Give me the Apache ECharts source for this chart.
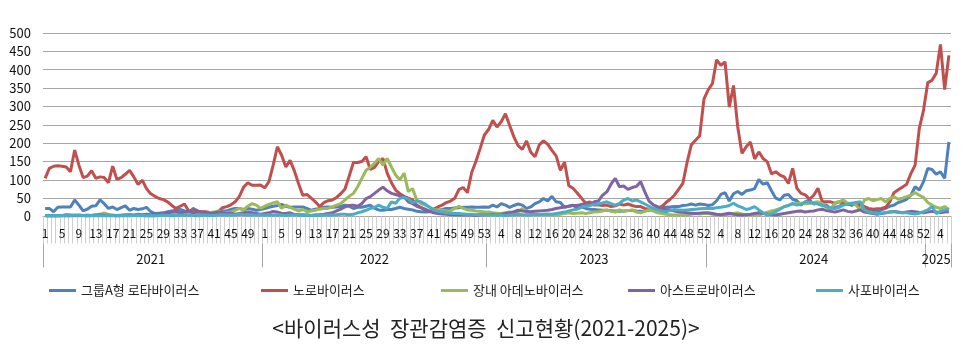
<!DOCTYPE html>
<html><head><meta charset="utf-8">
<script src="https://cdn.jsdelivr.net/npm/echarts@6/dist/echarts.min.js"></script>
<style>html,body{margin:0;padding:0;background:#fff}#c{width:972px;height:348px}</style>
</head><body><div id="c"></div>
<script>
// ---- tick / category definition ----
const years = ['2021', '2022', '2023', '2024', '2025'];
const weeksPerYear = [52, 53, 52, 52, 6];
const yTicks = [0, 50, 100, 150, 200, 250, 300, 350, 400, 450, 500];

// ---- series names ----
const seriesNames = ['그룹A형 로타바이러스', '노로바이러스', '장내 아데노바이러스', '아스트로바이러스', '사포바이러스'];

// ---- weekly values (2021 w1 ... 2025 w6) ----
const rotaA = [
  22,22,13,25,26,26,26,45,31,15, 20,28,29,45,35,22,26,19,24,29, 17,22,19,21,25,13,8,9,10,13, 15,17,19,15,10,22,16,10,6,6, 9,12,15,15,19,22,22,19,22,20, 17,19,
  22,25,28,30,33,28,25,26,26,26, 22,17,20,22,25,26,25,26,28,31, 28,22,25,25,28,31,22,18,17,19, 19,22,25,22,20,18,14,13,12,13, 15,17,19,22,22,23,24,25,25,26, 25,25,26,
  25,31,26,35,31,25,30,34,31,22, 26,35,40,49,42,55,40,38,25,28, 31,22,26,22,20,19,18,17,17,16, 15,14,15,16,17,15,14,15,17,20, 22,27,25,26,27,27,30,31,34,31, 34,33,
  30,32,43,60,65,42,62,68,60,70, 72,76,101,88,92,70,50,45,58,60, 47,43,31,40,45,34,38,33,31,22, 25,27,36,33,31,34,36,22,18,14, 13,18,22,28,31,38,42,47,58,81, 72,95,
  131,128,115,122,104,203
];
const noro = [
  104,131,137,138,137,135,122,181,140,106, 110,125,104,108,106,92,137,101,106,115, 126,108,87,99,76,62,55,49,46,40, 30,22,28,34,15,17,14,13,13,11, 10,13,24,27,32,40,55,80,92,85, 85,86,
  78,95,140,190,167,135,153,125,90,58, 60,50,40,27,38,43,45,52,62,75, 110,147,147,150,163,128,134,150,158,118, 92,72,62,55,50,45,31,24,18,14, 20,26,31,38,42,50,74,79,65,120, 150,185,222,
  237,262,244,258,280,248,217,193,183,206, 175,163,195,206,197,180,165,126,148,84, 77,64,50,36,40,31,32,30,31,27, 29,34,31,34,30,27,27,22,20,19, 22,27,38,47,58,74,90,147,195,208, 220,320,
  345,362,427,412,421,298,357,244,172,190, 203,157,176,158,149,116,122,113,108,90, 131,77,63,59,47,58,77,41,40,40, 36,40,38,35,31,36,29,27,22,20, 21,22,25,40,65,73,80,88,117,140, 240,290,
  365,371,390,469,346,439
];
const adeno = [
  2,2,3,2,2,3,2,3,2,3, 4,3,5,6,10,5,4,3,4,5, 4,3,2,3,2,3,2,5,4,6, 8,10,6,5,8,12,6,5,8,10, 12,15,10,10,12,17,22,18,28,35, 31,22,
  28,33,37,40,22,31,25,20,15,19, 13,15,17,20,22,22,26,31,35,45, 55,63,81,104,126,134,145,158,140,158, 135,113,100,118,68,76,45,35,31,26, 19,18,17,15,16,22,28,22,18,17, 15,14,12,
  12,10,9,8,10,12,10,13,22,10, 8,6,5,6,5,4,5,6,8,10, 8,9,10,8,10,12,13,15,18,14, 12,18,14,16,18,12,10,14,19,15, 10,8,6,5,4,5,6,5,6,8, 7,8,
  8,6,5,4,5,6,8,10,7,5, 4,5,4,8,12,15,18,22,26,31, 33,36,36,35,36,38,40,35,25,18, 38,40,45,36,36,31,18,45,49,43, 46,49,40,49,54,47,50,54,58,65, 58,52,
  38,31,25,22,27,19
];
const astro = [
  2,2,3,2,3,5,4,3,4,3, 2,3,4,5,3,4,3,2,3,4, 5,4,6,5,6,5,7,6,8,10, 12,14,10,12,15,10,13,12,11,8, 10,12,10,8,9,6,8,10,12,10, 8,6,
  8,10,14,12,9,8,10,6,5,5, 4,3,4,5,6,8,10,15,20,26, 30,31,28,35,49,54,63,72,80,70, 63,60,56,54,40,35,28,24,20,14, 10,8,7,6,5,5,4,4,5,4, 3,4,5,
  5,6,5,6,8,10,13,17,15,14, 13,14,15,16,17,19,22,24,26,28, 30,30,33,35,31,40,42,58,67,88, 104,81,83,74,79,82,95,67,42,32, 27,22,19,18,15,13,12,10,9,8, 9,10,
  10,8,6,5,7,9,6,5,4,5, 6,8,10,8,6,5,4,6,8,10, 12,14,15,12,14,15,18,20,16,14, 12,15,18,14,12,15,18,12,10,8, 6,8,10,12,14,12,10,12,14,13, 11,10,
  12,14,12,10,12,13
];
const sapo = [
  3,2,2,3,2,3,2,4,3,2, 3,2,3,2,2,3,2,3,2,3, 2,3,4,3,2,3,2,3,4,3, 2,3,4,3,4,3,2,3,4,3, 3,4,5,4,5,4,6,5,4,5, 4,5,
  4,5,4,5,4,3,4,5,4,3, 4,3,4,3,4,5,4,5,6,6, 5,6,10,13,17,22,25,31,25,22, 40,36,50,52,48,38,42,40,34,25, 18,14,12,10,9,8,8,7,6,6, 5,6,5,
  5,4,5,4,3,4,5,6,5,4, 5,6,5,6,7,6,8,10,12,15, 18,20,25,28,30,33,34,37,40,35, 31,36,45,49,42,45,40,34,28,22, 18,15,13,16,19,18,17,18,19,20, 21,22,
  22,22,24,25,27,30,36,29,25,19, 22,27,18,10,4,8,13,20,27,30, 36,31,33,40,38,36,34,30,27,24, 22,25,31,33,36,38,40,18,12,10, 8,9,10,12,13,11,10,10,8,7, 9,13,
  18,27,8,14,18,19
];
const seriesValues = [rotaA, noro, adeno, astro, sapo];
const seriesColors = ['#4F81BD', '#C0504D', '#9BBB59', '#8064A2', '#4BACC6'];

// ---- build categories ----
const categories = [];
const yearStart = new Set();
const yearLabelAt = new Set();
years.forEach((y, k) => {
  const start = categories.length;
  yearStart.add(start);
  yearLabelAt.add(start + Math.floor((weeksPerYear[k] - 1) / 2));
  for (let w = 1; w <= weeksPerYear[k]; w++) categories.push(y + '-' + w);
});

const legendLeft = [49, 261, 441, 628, 816];
const FONT = '"Noto Sans CJK KR", "Noto Sans", sans-serif';

const chart = echarts.init(document.getElementById('c'), null, {renderer: 'canvas'});
chart.setOption({
  animation: false,
  backgroundColor: '#ffffff',
  textStyle: {fontFamily: FONT},
  title: {
    text: '<바이러스성  장관감염증  신고현황(2021-2025)>',
    left: 'center', top: 313,
    textStyle: {fontSize: 21, fontWeight: 'normal', color: '#222', fontFamily: FONT}
  },
  legend: seriesNames.map((n, i) => ({
    data: [n], left: legendLeft[i], top: 284, icon: 'rect', padding: 0,
    itemWidth: 27, itemHeight: 3, itemGap: 0,
    textStyle: {fontSize: 13, color: '#222', fontFamily: FONT}
  })),
  grid: {left: 43, right: 21, top: 33, bottom: 131.5, containLabel: false, outerBoundsMode: 'none'},
  xAxis: [{
    type: 'category', data: categories, boundaryGap: true,
    axisLine: {show: true, lineStyle: {color: '#a6a6a6', width: 1}},
    axisTick: {show: true, interval: 0, length: 27, lineStyle: {color: '#cfcfcf'}},
    axisLabel: {interval: 3, formatter: v => v.split('-')[1], fontSize: 12, color: '#111', margin: 11, fontFamily: FONT},
    splitLine: {show: false}
  }, {
    type: 'category', data: categories, boundaryGap: true, position: 'bottom', offset: 27,
    axisLine: {show: false},
    axisTick: {show: true, interval: (i) => yearStart.has(i), length: 24, lineStyle: {color: '#a6a6a6'}},
    axisLabel: {interval: (i) => yearLabelAt.has(i), formatter: v => v.split('-')[0], fontSize: 13, color: '#111', margin: 9, fontFamily: FONT},
    splitLine: {show: false}
  }],
  yAxis: {
    type: 'value', min: yTicks[0], max: yTicks[yTicks.length - 1], interval: yTicks[1] - yTicks[0],
    axisLine: {show: false}, axisTick: {show: false},
    axisLabel: {fontSize: 13, color: '#111', margin: 12, fontFamily: FONT},
    splitLine: {lineStyle: {color: '#a6a6a6', width: 1}}
  },
  series: seriesNames.map((n, i) => ({
    name: n, type: 'line', data: seriesValues[i], xAxisIndex: 0,
    symbol: 'none', smooth: false,
    lineStyle: {color: seriesColors[i], width: 3},
    itemStyle: {color: seriesColors[i]}
  }))
});
</script>
</body></html>
